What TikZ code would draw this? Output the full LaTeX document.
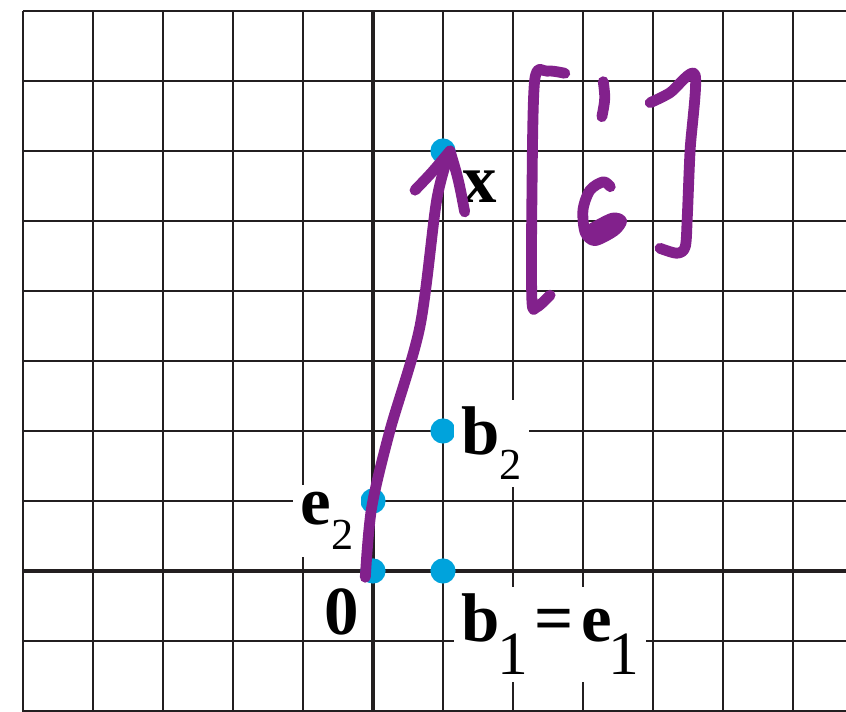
\documentclass[tikz,border=0pt]{standalone}
\usepackage{fontspec}
\setmainfont{Liberation Serif}
\usepackage{tikz}
\usepackage{xcolor}
\usetikzlibrary{positioning}
\definecolor{dotcyan}{HTML}{00A3DC}
\definecolor{inkpurple}{HTML}{82218C}
\definecolor{gridblack}{HTML}{231F20}
\newcommand{\smallsub}[1]{\raisebox{-10pt}{\normalfont\fontsize{18}{18}\selectfont #1}}
\newcommand{\bigsub}[1]{\raisebox{-13.4pt}{\normalfont\fontsize{25}{25}\selectfont #1}}

\begin{document}
\begin{tikzpicture}[
  gridline/.style={draw=gridblack, line width=0.85pt},
  axisline/.style={draw=gridblack, line width=1.8pt},
  vdot/.style={circle, fill=dotcyan, inner sep=0pt, minimum size=0.36cm},
  lbl/.style={inner sep=3pt, anchor=base west, font=\fontsize{28}{30}\selectfont\bfseries},
  lblbox/.style={lbl, fill=white},
  ink/.style={draw=inkpurple, line width=4.4pt, line cap=round, line join=round}
]
\useasboundingbox (-5.3286,-2.0143) rectangle (6.7571,8.1571);

% grid and axes
\draw[gridline] (-5,-2.02) grid (6.8,8);
\draw[axisline] (-5,0) -- (6.8,0);
\draw[axisline] (0,-2.02) -- (0,8);

% points
\node[vdot] (o) at (0,0) {};
\node[vdot] (bone) at (1,0) {};
\node[vdot] (etwo) at (0,1) {};
\node[vdot] (btwo) at (1,2) {};
\node[vdot] (xdot) at (1,6) {};

% labels
\node[lbl] (olab) at (-0.801,-0.914) {0};
\node[lblbox] (bonelab) at (1.151,-1.014) {b\kern-1pt\bigsub{1}\kern2.5pt=\kern3.2pt e\kern-1.5pt\bigsub{1}};
\node[lblbox] (etwolab) at (-1.144,0.657) {e\smallsub{2}};
\node[lblbox] (btwolab) at (1.151,1.657) {b\smallsub{2}};
\node[lbl] (xlab) at (1.166,5.271) {x};

% handwritten arrow and coordinates
\coordinate (pen) at (-0.11,-0.09);
\coordinate (tip) at (1.1,6.0);
\draw[ink] plot[smooth] coordinates {(pen) (-0.02,0.9) (0.24,2.0) (0.67,3.49) (0.91,5.3) (tip)};
\draw[ink] (0.6,5.44) .. controls (0.85,5.7) .. (tip) .. controls (1.22,5.6) .. (1.31,5.13);

\draw[ink] plot[smooth] coordinates {(2.74,7.11) (2.49,7.14) (2.31,7.01) (2.27,5.3) (2.27,3.87) (2.34,3.77) (2.53,3.94)};
\draw[ink] (3.29,6.99) .. controls (3.32,6.75) .. (3.27,6.49);
\draw[ink] plot[smooth] coordinates {(3.39,5.49) (3.29,5.56) (3.10,5.44) (3.0,5.16) (3.03,4.84) (3.17,4.72) (3.45,4.86) (3.55,5.0) (3.42,5.04) (3.14,4.9) (3.07,4.85)};
\fill[inkpurple] (3.3,4.9) ellipse [x radius=0.2, y radius=0.1, rotate=28];
\draw[ink] plot[smooth] coordinates {(3.96,6.69) (4.24,6.83) (4.6,7.09) (4.53,6.01) (4.49,5.06) (4.46,4.63) (4.34,4.54) (4.1,4.61)};

\end{tikzpicture}
\end{document}
